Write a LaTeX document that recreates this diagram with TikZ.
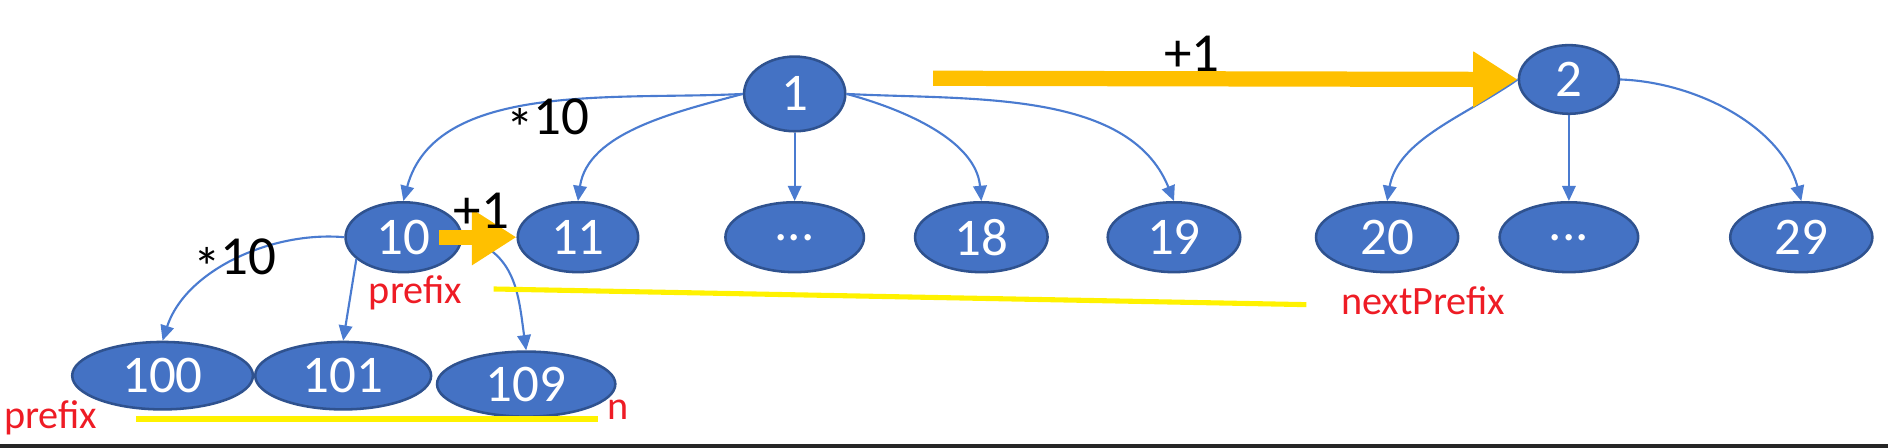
\documentclass[tikz,border=0pt]{standalone}
\usepackage{fontspec}
\setmainfont{Carlito}
\usetikzlibrary{shapes.geometric,arrows.meta}
\definecolor{nodeblue}{HTML}{4472C4}
\definecolor{nodeedge}{HTML}{2F528F}
\definecolor{lineblue}{HTML}{4A7BD0}
\definecolor{plusorange}{HTML}{FFC000}
\definecolor{markyellow}{HTML}{FFF200}
\definecolor{labelred}{HTML}{EE1C25}

\begin{document}
\begin{tikzpicture}[x=0.01cm,y=0.01cm,
  num/.style={ellipse,draw=nodeedge,line width=0.6pt,fill=nodeblue,text=white,inner sep=0pt,minimum height=0.58cm,font=\fontsize{12.5}{12.5}\selectfont},
  child/.style={-{Triangle[width=3.2pt,length=3.6pt]},draw=lineblue,line width=0.5pt},
  plus/.style={-{Triangle[width=12.5pt,length=10.5pt]},draw=plusorange,line width=3.6pt},
  op/.style={font=\fontsize{13}{13}\selectfont},
  note/.style={text=labelred,font=\fontsize{9.5}{9.5}\selectfont},
  span/.style={draw=markyellow,line width=1.2pt}]
\useasboundingbox (0,0) rectangle (1568,372);
\fill[black!85] (0,0) rectangle (1568,3);

\node(a)[num,minimum width=0.84cm,minimum height=0.62cm] at (660,294){1};
\node(b)[num,minimum width=0.83cm,minimum height=0.57cm] at (1303,306){2};

\node(c)[num,minimum width=0.96cm] at (335,175){10};
\node(d)[num,minimum width=1.00cm] at (480,175){11};
\node(e)[num,minimum width=1.15cm] at (660,175){...};
\node(f)[num,minimum width=1.10cm] at (815,175){18};
\node(g)[num,minimum width=1.10cm] at (975,175){19};
\node(h)[num,minimum width=1.18cm] at (1152,175){20};
\node(i)[num,minimum width=1.15cm] at (1303,175){...};
\node(j)[num,minimum width=1.18cm] at (1496,175){29};

\node(k)[num,minimum width=1.50cm,minimum height=0.56cm] at (135,60){100};
\node(l)[num,minimum width=1.46cm,minimum height=0.56cm] at (285,60){101};
\node(m)[num,minimum width=1.48cm,minimum height=0.54cm] at (437,53){109};

\draw[child] (a.west) to[out=183,in=75,looseness=0.9] (c.north);
\draw[child] (a.west) to[out=195,in=82,looseness=0.9] (d.north);
\draw[child] (a.south) -- (e.north);
\draw[child] (a.east) to[out=-15,in=95,looseness=0.9] (f.north);
\draw[child] (a.east) to[out=-3,in=112,looseness=0.9] (g.north);
\draw[child] (b.west) to[out=215,in=80,looseness=0.9] (h.north);
\draw[child] (b.south) -- (i.north);
\draw[child] (b.east) to[out=-2,in=105,looseness=0.9] (j.north);
\draw[child] (c.west) to[out=175,in=72,looseness=0.9] (k.north);
\draw[child] (c.205) -- (l.north);
\draw[child] (c.east) to[out=-15,in=98,looseness=1.1] (m.north);

\draw[plus] (775,307) -- (b.west);
\draw[plus] (365,175) -- (d.west);

\node(p)[op] at (455,270){\raisebox{-3pt}{*}10};
\node(q)[op] at (990,327){+1};
\node(r)[op] at (400,197){+1};
\node(s)[op] at (195,154){\raisebox{-3pt}{*}10};

\node(t)[note] at (345,129){prefix};
\node(u)[note] at (1182,122){nextPrefix};
\node(v)[note] at (42,25){prefix};
\node(w)[note] at (513,32){n};

\draw[span] (410,132) -- (1085,119);
\draw[span] (113,24) -- (497,24);
\end{tikzpicture}
\end{document}
